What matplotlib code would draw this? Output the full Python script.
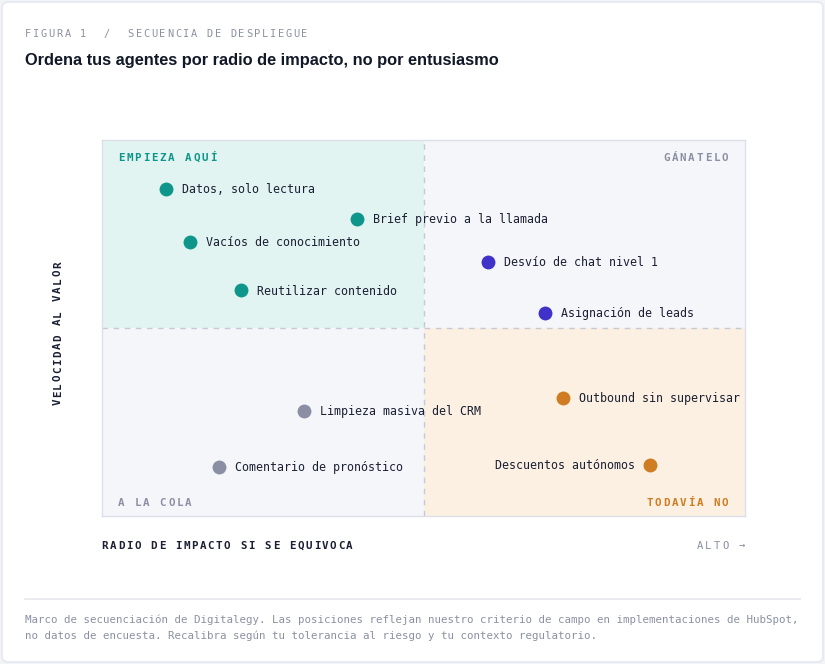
import matplotlib
matplotlib.use("Agg")
import matplotlib.pyplot as plt
from matplotlib.patches import Rectangle, FancyBboxPatch

W, H = 825, 664

# data (x = radio de impacto, y = velocidad al valor, 0-100)
labels = ["Datos, solo lectura", "Brief previo a la llamada", "Vacíos de conocimiento",
          "Reutilizar contenido", "Desvío de chat nivel 1", "Asignación de leads",
          "Limpieza masiva del CRM", "Comentario de pronóstico",
          "Outbound sin supervisar", "Descuentos autónomos"]
impact = [10, 39.7, 13.7, 21.6, 60, 68.9, 31.4, 18.2, 71.7, 85.3]
speed = [87, 79, 73, 60, 67.5, 54, 28, 13, 31.5, 13.5]
group = ["start", "start", "start", "start", "earn", "earn", "tail", "tail", "no", "no"]
label_side = ["right"] * 9 + ["left"]

quadrants = ["EMPIEZA AQUÍ", "GÁNATELO", "A LA COLA", "TODAVÍA NO"]

colors = {"start": "#0f968a", "earn": "#4032c8", "tail": "#8a8fa3", "no": "#d07c22"}
fills = {"start": "#e1f4f2", "earn": "#f5f6fa", "tail": "#f5f6fa", "no": "#fbf0e2"}
dark = "#1b1f33"
muted = "#8b90a3"
mono = "DejaVu Sans Mono"


def fx(x):
    return x / W


def fy(y):
    return 1 - y / H


def tracked(x, y, s, pitch, size, color, weight="normal", align="left", rot=False):
    # letter-spaced label, x/y in pixels from top-left
    n = len(s)
    if align == "right":
        x = x - (n - 1) * pitch - 6
    for i, ch in enumerate(s):
        if rot:
            fig.text(fx(x), fy(y - i * pitch - 3), ch, rotation=90, ha="center", va="center",
                     fontsize=size, color=color, fontweight=weight, family=mono)
        else:
            fig.text(fx(x + i * pitch + 3), fy(y), ch, ha="center", va="center",
                     fontsize=size, color=color, fontweight=weight, family=mono)


fig = plt.figure(figsize=(W / 100, H / 100), dpi=100)
fig.patch.set_facecolor("#f3f4f8")
card = FancyBboxPatch((fx(2), fy(662)), fx(821), 660 / H, boxstyle="round,pad=0,rounding_size=0.008",
                      transform=fig.transFigure, facecolor="white", edgecolor="#e2e4ee", lw=1,
                      zorder=-5)
fig.patches.append(card)

# header
tracked(25, 34, "FIGURA 1  /  SECUENCIA DE DESPLIEGUE", 7.9, 7.4, muted)
fig.text(fx(25), fy(60), "Ordena tus agentes por radio de impacto, no por entusiasmo",
         family="Liberation Sans", fontweight="bold", fontsize=11.8, color="#111827",
         ha="left", va="center")

# chart area
ax = fig.add_axes([fx(102), fy(516), 643 / W, 376 / H])
ax.set_xlim(0, 100)
ax.set_ylim(0, 100)
ax.add_patch(Rectangle((0, 50), 50, 50, facecolor=fills["start"], lw=0, zorder=0))
ax.add_patch(Rectangle((50, 50), 50, 50, facecolor=fills["earn"], lw=0, zorder=0))
ax.add_patch(Rectangle((0, 0), 50, 50, facecolor=fills["tail"], lw=0, zorder=0))
ax.add_patch(Rectangle((50, 0), 50, 50, facecolor=fills["no"], lw=0, zorder=0))
ax.axvline(50, color="#c6cad6", lw=1, ls=(0, (4, 4)), zorder=1)
ax.axhline(50, color="#c6cad6", lw=1, ls=(0, (4, 4)), zorder=1)
ax.set_xticks([])
ax.set_yticks([])
for sp in ax.spines.values():
    sp.set_color("#dde0ea")
    sp.set_linewidth(1)

for lab, x, y, g, side in zip(labels, impact, speed, group, label_side):
    ax.scatter(x, y, s=100, color=colors[g], lw=0, zorder=3)
    if side == "right":
        ax.annotate(lab, (x, y), xytext=(11.5, -0.5), textcoords="offset points", ha="left",
                    va="center", family=mono, fontsize=8.4, color=dark)
    else:
        ax.annotate(lab, (x, y), xytext=(-11.5, -0.5), textcoords="offset points", ha="right",
                    va="center", family=mono, fontsize=8.4, color=dark)

# quadrant tags
tracked(118, 158, quadrants[0], 8.4, 7.8, colors["start"], "bold")
tracked(728, 158, quadrants[1], 8.4, 7.8, muted, "bold", align="right")
tracked(118, 503, quadrants[2], 8.4, 7.8, muted, "bold")
tracked(728, 503, quadrants[3], 8.4, 7.8, colors["no"], "bold", align="right")

# axis titles
tracked(58, 405, "VELOCIDAD AL VALOR", 8.05, 7.8, dark, "bold", rot=True)
tracked(102, 546, "RADIO DE IMPACTO SI SE EQUIVOCA", 8.15, 7.8, dark, "bold")
tracked(745, 546, "ALTO →", 8.4, 7.6, muted, align="right")

# footer
fig.add_artist(plt.Line2D([fx(25), fx(800)], [fy(599), fy(599)], color="#e5e7ef", lw=1.2))
fig.text(fx(25), fy(619.5), "Marco de secuenciación de Digitalegy. Las posiciones reflejan nuestro "
         "criterio de campo en implementaciones de HubSpot,", family=mono, fontsize=7.75,
         color=muted, ha="left", va="center")
fig.text(fx(25), fy(635.5), "no datos de encuesta. Recalibra según tu tolerancia al riesgo y tu "
         "contexto regulatorio.", family=mono, fontsize=7.75, color=muted, ha="left", va="center")

fig.savefig("out.png", dpi=100)
